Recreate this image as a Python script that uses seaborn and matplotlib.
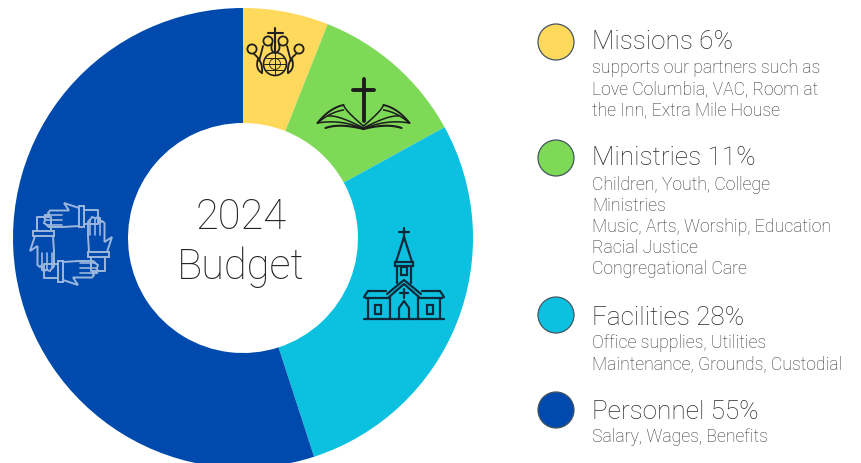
import numpy as np
import seaborn as sns
import matplotlib.pyplot as plt
from matplotlib.patches import Circle, Rectangle

categories = ['Missions', 'Ministries', 'Facilities', 'Personnel']
percents = [6, 11, 28, 55]
details = [
    ['supports our partners such as', 'Love Columbia, VAC, Room at', 'the Inn, Extra Mile House'],
    ['Children, Youth, College', 'Ministries', 'Music, Arts, Worship, Education', 'Racial Justice', 'Congregational Care'],
    ['Office supplies, Utilities', 'Maintenance, Grounds, Custodial'],
    ['Salary, Wages, Benefits'],
]
colors = ['#FFD95C', '#7ED957', '#0CC0DF', '#004AAD']

sns.set_theme(style='white')
plt.rcParams['font.family'] = ['Roboto', 'Liberation Sans', 'DejaVu Sans']
pal = sns.color_palette(colors)

fig = plt.figure(figsize=(8.61, 4.64), dpi=100)

# donut, axes in pixels with y going up
ax = fig.add_axes([0, 0, 1, 1])
ax.pie(percents, colors=pal, startangle=90, counterclock=False, radius=230,
       center=(243, 464 - 239), wedgeprops={'width': 115, 'linewidth': 0})
ax.set_xlim(0, 861)
ax.set_ylim(0, 464)
ax.set_aspect('auto')
ax.axis('off')

# overlay in image pixels for text and icons
ov = fig.add_axes([0, 0, 1, 1])
ov.set_xlim(0, 861)
ov.set_ylim(464, 0)
ov.axis('off')
ov.patch.set_alpha(0)

ov.text(241, 218, '2024', ha='center', va='center', fontsize=30, fontweight='light', color='#222222')
ov.text(241, 267, 'Budget', ha='center', va='center', fontsize=30, fontweight='light', color='#222222')

# legend column
head_y = [42, 158, 318, 412]
circle_y = [43, 159, 316, 411]
first_body = [68, 185, 343, 437]
for i, name in enumerate(categories):
    ov.add_patch(Circle((556, circle_y[i]), 18, fc=pal[i], ec='#44555f', lw=0.9))
    ov.text(592, head_y[i], f'{name} {percents[i]}%', va='center', fontsize=18.8,
            fontweight='light', color='#2a2a2a')
    for j, line_txt in enumerate(details[i]):
        ov.text(592, first_body[i] + j * 21.1, line_txt, va='center', fontsize=12.7,
                fontweight='light', color='#333333')


def line(xs, ys, c='#1c1c1c', lw=1.3):
    ov.plot(xs, ys, color=c, lw=lw, solid_capstyle='round', solid_joinstyle='round')


def curve(p0, p1, p2, c='#1c1c1c', lw=1.1):
    t = np.linspace(0, 1, 30)
    xs = (1 - t) ** 2 * p0[0] + 2 * t * (1 - t) * p1[0] + t ** 2 * p2[0]
    ys = (1 - t) ** 2 * p0[1] + 2 * t * (1 - t) * p1[1] + t ** 2 * p2[1]
    line(xs, ys, c, lw)


# missions icon
ink = '#1f1f1f'
ov.add_patch(Circle((275, 65), 11.5, fc='none', ec=ink, lw=1.2))
ov.add_patch(Circle((275, 65), 5.5, fc='none', ec=ink, lw=0.6))
line([264, 286], [65, 65], ink, 0.7)
line([275, 275], [54, 76], ink, 0.7)
line([266, 284], [59, 59], ink, 0.7)
line([266, 284], [71, 71], ink, 0.7)
line([275, 275], [29, 52], ink, 1.5)
line([268, 283], [34, 34], ink, 1.5)
for hx, hy in [(252, 50), (268, 42), (283, 42), (299, 50)]:
    ov.add_patch(Circle((hx, hy), 4.6, fc='none', ec=ink, lw=1.3))
curve((263, 47), (261, 55), (259, 62), ink, 1.3)
curve((287, 47), (289, 55), (291, 62), ink, 1.3)
curve((272, 45), (270, 52), (275, 54), ink, 1.3)
curve((279, 45), (281, 52), (275, 54), ink, 1.3)
curve((254, 55), (263, 62), (262, 74), ink, 1.3)
curve((296, 55), (287, 62), (288, 74), ink, 1.3)
curve((258, 60), (255, 70), (262, 74), ink, 1.3)
curve((292, 60), (295, 70), (288, 74), ink, 1.3)

# bible icon
line([363.5, 363.5], [80, 122], '#1c1c1c', 2.8)
line([353, 374], [91, 91], '#1c1c1c', 2.8)
for s in (-1, 1):
    cx = 363.5
    curve((cx, 130), (cx + s * 22, 120), (cx + s * 46, 124))
    curve((cx, 129), (cx + s * 25, 116), (cx + s * 35, 117))
    curve((cx, 127), (cx + s * 18, 112), (cx + s * 20, 106))
    curve((cx + s * 20, 106), (cx + s * 34, 109), (cx + s * 46, 124), lw=1.4)
    curve((cx + s * 46, 124), (cx + s * 33, 113), (cx + s * 20, 111))
    curve((cx, 130), (cx + s * 24, 124), (cx + s * 38, 129), lw=1.5)

# church icon
ci = '#0d2a3a'
cw = 1.6
line([404, 404], [229, 241], ci, cw)
line([399, 409], [232.5, 232.5], ci, cw)
line([396, 404, 412], [263, 238, 263], ci, cw)
ov.add_patch(Rectangle((395, 263), 18, 4, fc='none', ec=ci, lw=cw))
line([397, 397], [267, 284], ci, cw)
line([411, 411], [267, 284], ci, cw)
ov.add_patch(Rectangle((401, 268), 6, 8, fc='none', ec=ci, lw=cw))
line([387, 404, 421], [295, 281, 295], ci, cw)
line([389, 404, 419], [298, 285, 298], ci, cw)
line([390, 390], [297, 320], ci, cw)
line([418, 418], [297, 320], ci, cw)
line([364, 444], [320, 320], ci, cw)
line([386, 368, 364, 366, 389], [292, 292, 298, 299, 299], ci, cw)
line([422, 440, 444, 442, 419], [292, 292, 298, 299, 299], ci, cw)
line([368, 368], [299, 320], ci, cw)
line([440, 440], [299, 320], ci, cw)
ov.add_patch(Rectangle((375, 306), 6, 9, fc='none', ec=ci, lw=cw))
ov.add_patch(Rectangle((427, 306), 6, 9, fc='none', ec=ci, lw=cw))
line([399, 399, 404, 409, 409], [320, 309, 302, 309, 320], ci, cw)
line([404, 404], [290, 299], ci, cw)
line([400, 408], [294, 294], ci, cw)

# hands icon, one hand turned four times, sleeves first so fingers cover them
hand_x = [8, -7, -2, -21, -23, -21, -26, -27, -25, -26, -27, -24, -24, -22, -8, 8]
hand_y = [-36, -41, -33.5, -33.5, -31, -29, -29, -26.5, -24, -24, -21, -19, -18.5, -17, -17, -18]
sep_x = [[-21, -9], [-25, -9], [-24, -9]]
sep_y = [-29, -24, -19]
cuff_x = [8, 13, 13, 8, 8]
cuff_y = [-38, -38, -17, -17, -38]
sleeve_x = [13, 27, 27, 13]
sleeve_y = [-34, -34, -20, -20]
hc = '#9DB7DC'
blue = colors[3]


def turn(px, py, k):
    xs, ys = np.array(px, float), np.array(py, float)
    for _ in range(k):
        xs, ys = -ys, xs
    return 71 + xs, 245 + ys


for k in range(4):
    xs, ys = turn(sleeve_x, sleeve_y, k)
    line(xs, ys, hc, 1.4)
for k in range(4):
    xs, ys = turn(hand_x, hand_y, k)
    ov.fill(xs, ys, fc=blue, ec=hc, lw=1.4)
    xs, ys = turn(cuff_x, cuff_y, k)
    ov.fill(xs, ys, fc=blue, ec=hc, lw=1.4)
    for sx, sy in zip(sep_x, sep_y):
        xs, ys = turn(sx, [sy, sy], k)
        line(xs, ys, hc, 1.2)

ov.set_xlim(0, 861)
ov.set_ylim(464, 0)
plt.savefig('out.png', dpi=100)
